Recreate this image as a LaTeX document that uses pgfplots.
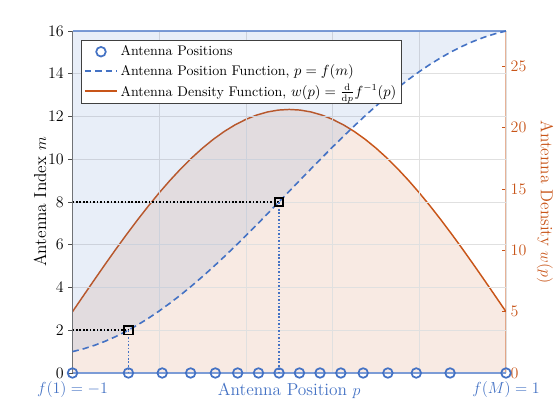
\documentclass[border=0pt]{standalone}
\usepackage{pgfplots}
\pgfplotsset{compat=1.18}
\usepackage{pgfplotstable}
\definecolor{cblue}{RGB}{68,114,196}
\definecolor{corange}{RGB}{200,85,25}
\pgfplotsset{
  legline/.style={legend image code/.code={\draw[##1] (0cm,0cm) -- (0.85cm,0cm);}},
  legmark/.style={legend image code/.code={\draw[mark repeat=2,mark phase=2,##1] plot coordinates {(0cm,0cm) (0.425cm,0cm) (0.85cm,0cm)};}},
}

\pgfplotstableread{
p m
-1 1
-0.95 1.128
-0.9 1.289
-0.85 1.482
-0.8 1.706
-0.75 1.961
-0.7 2.246
-0.65 2.560
-0.6 2.901
-0.55 3.269
-0.5 3.661
-0.45 4.077
-0.4 4.513
-0.35 4.968
-0.3 5.441
-0.25 5.928
-0.2 6.427
-0.15 6.936
-0.1 7.453
-0.05 7.975
0 8.5
0.05 9.025
0.1 9.547
0.15 10.064
0.2 10.573
0.25 11.072
0.3 11.559
0.35 12.032
0.4 12.487
0.45 12.923
0.5 13.339
0.55 13.731
0.6 14.099
0.65 14.440
0.7 14.754
0.75 15.039
0.8 15.294
0.85 15.518
0.9 15.711
0.95 15.872
1 16
}\posfun

\pgfplotstableread{
p w
-1 5
-0.95 6.295
-0.9 7.581
-0.85 8.852
-0.8 10.099
-0.75 11.314
-0.7 12.491
-0.65 13.621
-0.6 14.699
-0.55 15.716
-0.5 16.667
-0.45 17.547
-0.4 18.349
-0.35 19.069
-0.3 19.702
-0.25 20.244
-0.2 20.692
-0.15 21.044
-0.1 21.297
-0.05 21.449
0 21.5
0.05 21.449
0.1 21.297
0.15 21.044
0.2 20.692
0.25 20.244
0.3 19.702
0.35 19.069
0.4 18.349
0.45 17.547
0.5 16.667
0.55 15.716
0.6 14.699
0.65 13.621
0.7 12.491
0.75 11.314
0.8 10.099
0.85 8.852
0.9 7.581
0.95 6.295
1 5
}\density

\pgfplotstableread{
p m base
-1 1 0
-0.742 2 0
-0.586 3 0
-0.455 4 0
-0.341 5 0
-0.238 6 0
-0.142 7 0
-0.047 8 0
0.047 9 0
0.142 10 0
0.238 11 0
0.341 12 0
0.455 13 0
0.586 14 0
0.742 15 0
1 16 0
}\antennas

\begin{document}
\begin{tikzpicture}
\useasboundingbox (-54.375pt,-35.25pt) rectangle (365.625pt,279.75pt);
% right axis (density)
\begin{axis}[
  scale only axis, width=325.125pt, height=256.5pt,
  xmin=-1, xmax=1, ymin=0, ymax=27.9,
  axis x line=none, axis y line*=right,
  ytick={0,5,10,15,20,25},
  y axis line style={draw=corange!45, line width=0.9pt},
  y tick style={corange, line width=0.6pt},
  tick align=inside, major tick length=3pt,
  yticklabel style={text=corange, font=\fontsize{11.5}{13}\selectfont},
  every axis y label/.style={at={(rel axis cs:1.09,0.5)}, anchor=center, rotate=-90},
  ylabel={Antenna Density $w(p)$},
  ylabel style={text=corange, font=\fontsize{13}{15}\selectfont},
]
\addplot[draw=none, fill=corange, fill opacity=0.12] table[x=p,y=w]{\density} \closedcycle;
\addplot[corange, line width=1.1pt] table[x=p,y=w]{\density};
\end{axis}
% left axis (index)
\begin{axis}[
  scale only axis, width=325.125pt, height=256.5pt,
  xmin=-1, xmax=1, ymin=0, ymax=16,
  axis x line*=box, axis y line*=left,
  clip=false,
  xtick={-1,-0.6,-0.2,0.2,0.6,1},
  xticklabels={$f(1)=-1$,,,,,$f(M)=1$},
  xticklabel style={text=cblue, font=\fontsize{12}{14}\selectfont},
  x tick style={draw=none},
  ytick={0,2,...,16},
  y tick style={black!70, line width=0.6pt},
  tick align=outside, major tick length=3pt,
  yticklabel style={font=\fontsize{11.5}{13}\selectfont},
  grid=major, major grid style={black!12, line width=0.5pt},
  x axis line style={draw=cblue!70, line width=1pt},
  y axis line style={draw=black!55, line width=0.9pt},
  xlabel={Antenna Position $p$},
  xlabel style={text=cblue, font=\fontsize{13}{15}\selectfont, at={(rel axis cs:0.5,-0.0526)}, anchor=center},
  ylabel={Antenna Index $m$},
  ylabel style={font=\fontsize{13}{15}\selectfont, at={(rel axis cs:-0.075,0.5)}, anchor=center},
  legend style={at={(0.0196,0.9737)}, anchor=north west, draw=black!75, fill=white,
    font=\fontsize{10.5}{12.5}\selectfont, line width=0.6pt, inner sep=2pt, row sep=1pt},
  legend cell align=left,
]
\addplot[forget plot, draw=none, fill=cblue, fill opacity=0.12] table[x=p,y=m]{\posfun} -- (axis cs:1,16) -- (axis cs:-1,16) -- cycle;
\addplot[forget plot, cblue, line width=1.2pt, dash pattern=on 4.8pt off 3pt] table[x=p,y=m]{\posfun};
\addplot[forget plot, black, line width=1.2pt, dash pattern=on 1.2pt off 1.4pt] coordinates {(-1,2) (-0.742,2)};
\addplot[forget plot, cblue, line width=1.2pt, dash pattern=on 1.2pt off 1.4pt] coordinates {(-0.742,2) (-0.742,0)};
\addplot[forget plot, black, line width=1.2pt, dash pattern=on 1.2pt off 1.4pt] coordinates {(-1,8) (-0.047,8)};
\addplot[forget plot, cblue, line width=1.2pt, dash pattern=on 1.2pt off 1.4pt] coordinates {(-0.047,8) (-0.047,0)};
\addplot[forget plot, only marks, mark=square, mark size=3.2pt, black, line width=1.3pt] coordinates {(-0.742,2) (-0.047,8)};
\addplot[forget plot, only marks, mark=o, mark size=3.6pt, cblue, line width=1.3pt] table[x=p,y=base]{\antennas};

\addlegendimage{legmark, only marks, mark=o, mark size=3.6pt, cblue, line width=1.3pt}
\addlegendentry{Antenna Positions}
\addlegendimage{legline, cblue, line width=1.2pt, dash pattern=on 4.8pt off 3pt}
\addlegendentry{Antenna Position Function, $p=f(m)$}
\addlegendimage{legline, corange, line width=1.1pt}
\addlegendentry{Antenna Density Function, $w(p)=\frac{\mathrm{d}}{\mathrm{d}p}f^{-1}(p)$}
\end{axis}
\end{tikzpicture}
\end{document}
